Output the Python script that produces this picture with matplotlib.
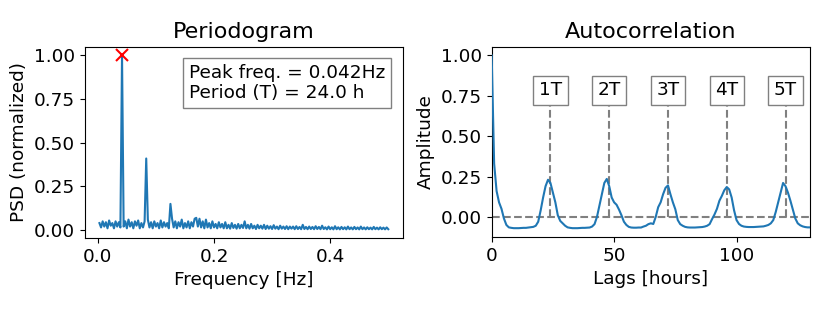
import numpy as np
import matplotlib
matplotlib.use("Agg")
import matplotlib.pyplot as plt

# ---------------- data ----------------
n_hours = 360  # frequency grid: k / n_hours, k = 1..180
psd_values = [
    0.04, 0.015, 0.05, 0.02, 0.045, 0.01, 0.055, 0.025, 0.04, 0.01, 0.05, 0.02, 0.045, 0.015, 1.0,
    0.02, 0.05, 0.01, 0.06, 0.02, 0.045, 0.01, 0.05, 0.025, 0.055, 0.01, 0.04, 0.015, 0.05, 0.41,
    0.06, 0.015, 0.045, 0.01, 0.05, 0.02, 0.04, 0.01, 0.055, 0.015, 0.045, 0.02, 0.04, 0.01, 0.15,
    0.065, 0.015, 0.05, 0.01, 0.045, 0.02, 0.06, 0.01, 0.04, 0.015, 0.05, 0.01, 0.045, 0.02, 0.065,
    0.07, 0.02, 0.065, 0.015, 0.05, 0.01, 0.06, 0.015, 0.04, 0.01, 0.05, 0.015, 0.035, 0.01, 0.045,
    0.015, 0.035, 0.01, 0.045, 0.01, 0.03, 0.008, 0.04, 0.012, 0.03, 0.008, 0.035, 0.01, 0.03, 0.012,
    0.05, 0.01, 0.03, 0.008, 0.035, 0.01, 0.025, 0.006, 0.03, 0.01, 0.025, 0.008, 0.03, 0.006, 0.025,
    0.008, 0.022, 0.006, 0.028, 0.008, 0.02, 0.005, 0.025, 0.008, 0.02, 0.006, 0.022, 0.005, 0.02, 0.008,
    0.02, 0.005, 0.022, 0.006, 0.018, 0.005, 0.03, 0.006, 0.018, 0.005, 0.02, 0.006, 0.018, 0.005, 0.022,
    0.006, 0.018, 0.005, 0.025, 0.006, 0.016, 0.004, 0.02, 0.005, 0.016, 0.004, 0.022, 0.005, 0.016, 0.004,
    0.018, 0.005, 0.016, 0.004, 0.02, 0.005, 0.015, 0.004, 0.018, 0.005, 0.015, 0.004, 0.02, 0.005, 0.015,
    0.004, 0.016, 0.005, 0.014, 0.004, 0.018, 0.005, 0.014, 0.004, 0.016, 0.005, 0.014, 0.004, 0.015, 0.005,
]
peak_freq = 0.042
period_hours = 24.0

acf_values = [
    1.0, 0.33, 0.16, 0.09, 0.05, -0.01, -0.05, -0.065, -0.068, -0.07,
    -0.07, -0.07, -0.069, -0.068, -0.068, -0.066, -0.064, -0.062, -0.055, -0.03,
    0.04, 0.12, 0.19, 0.23, 0.21, 0.15, 0.09, 0.01, -0.025, -0.04,
    -0.055, -0.065, -0.068, -0.07, -0.07, -0.07, -0.069, -0.068, -0.068, -0.067,
    -0.066, -0.06, -0.045, 0.0, 0.07, 0.14, 0.21, 0.235, 0.19, 0.12,
    0.09, 0.075, 0.045, 0.01, -0.03, -0.05, -0.062, -0.066, -0.067, -0.067,
    -0.066, -0.066, -0.06, -0.055, -0.045, -0.04, -0.044, 0.0, 0.06, 0.09,
    0.14, 0.18, 0.195, 0.14, 0.09, 0.047, -0.02, -0.045, -0.055, -0.062,
    -0.065, -0.066, -0.066, -0.066, -0.065, -0.064, -0.063, -0.06, -0.055, -0.045,
    -0.014, 0.015, 0.05, 0.1, 0.13, 0.165, 0.185, 0.17, 0.12, 0.04,
    -0.02, -0.044, -0.055, -0.06, -0.062, -0.063, -0.063, -0.063, -0.062, -0.061,
    -0.06, -0.059, -0.055, -0.05, -0.04, -0.02, 0.03, 0.09, 0.15, 0.21,
    0.19, 0.15, 0.1, 0.045, -0.01, -0.04, -0.052, -0.059, -0.063, -0.065,
    -0.065,
]
period_multiples = [1, 2, 3, 4, 5]
period_labels = ["1T", "2T", "3T", "4T", "5T"]

# ---------------- figure ----------------
plt.rcParams["font.family"] = ["DejaVu Sans"]
FS = 13.3
TFS = 16
fig = plt.figure(figsize=(8.3, 3.12), dpi=100)
ax1 = fig.add_axes([0.1024, 0.237, 0.3828, 0.613])
ax2 = fig.add_axes([0.5924, 0.241, 0.3835, 0.609])

freqs = np.arange(1, len(psd_values) + 1) / n_hours
psd = np.array(psd_values)
ax1.plot(freqs, psd, color="#1f77b4", lw=1.5)
ipk = int(np.argmax(psd))
ax1.plot(freqs[ipk], psd[ipk], "x", color="red", markersize=8, mew=1.5)
ax1.set_title("Periodogram", fontsize=TFS)
ax1.set_xlabel("Frequency [Hz]", fontsize=FS)
ax1.set_ylabel("PSD (normalized)", fontsize=FS)
ax1.set_xticks([0.0, 0.2, 0.4])
ax1.set_yticks([0.0, 0.25, 0.5, 0.75, 1.0])
ax1.tick_params(labelsize=FS)
ax1.text(0.636, 0.811, f"Peak freq. = {peak_freq:.3f}Hz\nPeriod (T) = {period_hours:.1f} h",
         transform=ax1.transAxes, ha="center", va="center", multialignment="left", fontsize=FS,
         bbox=dict(boxstyle="square,pad=0.3", facecolor="white", edgecolor="gray"))

lags = np.arange(len(acf_values))
ax2.plot(lags, acf_values, color="#1f77b4", lw=1.5, zorder=3)
ax2.axhline(0, color="gray", ls="--", lw=1.5, zorder=2)
for m, lab in zip(period_multiples, period_labels):
    x = m * period_hours
    ax2.vlines(x, 0, 0.78, colors="gray", linestyles="--", lw=1.5, zorder=2)
    ax2.text(x, 0.785, lab, ha="center", va="center", fontsize=FS, zorder=4,
             bbox=dict(boxstyle="square,pad=0.3", facecolor="white", edgecolor="gray"))
ax2.set_xlim(0, 130)
ax2.set_title("Autocorrelation", fontsize=TFS)
ax2.set_xlabel("Lags [hours]", fontsize=FS)
ax2.set_ylabel("Amplitude", fontsize=FS)
ax2.set_xticks([0, 50, 100])
ax2.set_yticks([0.0, 0.25, 0.5, 0.75, 1.0])
ax2.tick_params(labelsize=FS)

fig.savefig("out.png", dpi=100)
